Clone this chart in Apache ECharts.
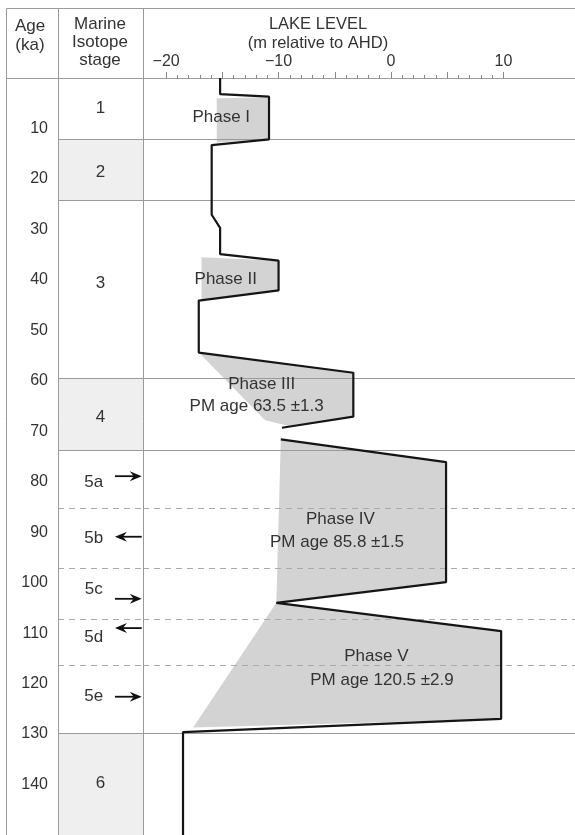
<!DOCTYPE html>
<html><head><meta charset="utf-8">
<script src="https://cdn.jsdelivr.net/npm/echarts@6/dist/echarts.min.js"></script>
<style>html,body{margin:0;padding:0;background:#fff}#c{width:575px;height:835px}</style>
</head><body><div id="c"></div>
<script>
// ---- data (lake level in m relative to AHD, age in ka) ----
const level1 = [-15.2, -15.2, -10.85, -10.85, -15.95, -15.95, -15.2, -15.2, -10.0, -10.0, -17.1, -17.1, -3.35, -3.35, -9.7];
const age1   = [0, 3.2, 3.7, 12.15, 13.3, 27.1, 29.7, 34.9, 36.2, 42.1, 44.1, 54.4, 58.4, 67.1, 69.3];
const level2 = [-9.8, 4.9, 4.9, -10.2, 9.8, 9.8, -18.5, -18.5];
const age2   = [71.6, 76.1, 99.9, 104.0, 109.6, 127.0, 129.6, 150];

const phaseLevels = [
  [-15.5, -10.85, -10.85, -15.5],
  [-16.85, -10.0, -10.0, -16.85],
  [-17.1, -3.35, -3.35, -9.0, -11.2],
  [-9.8, 4.9, 4.9, -10.2],
  [-10.2, 9.8, 9.8, -17.6]
];
const phaseAges = [
  [4.0, 3.8, 12.15, 12.8],
  [35.5, 36.2, 42.1, 44.0],
  [54.4, 58.4, 67.1, 69.0, 67.8],
  [71.6, 76.1, 99.9, 104.0],
  [104.0, 109.6, 127.0, 128.7]
];

const labelText  = ['Phase I', 'Phase II', 'Phase III', 'PM age 63.5 \u00b11.3', 'Phase IV', 'PM age 85.8 \u00b11.5', 'Phase V', 'PM age 120.5 \u00b12.9'];
const labelLevel = [-15.1, -14.7, -11.5, -11.95, -4.5, -4.8, -1.3, -0.8];
const labelAge   = [7.8, 39.9, 60.6, 65.1, 87.4, 92.1, 114.5, 119.3];

const stageNames    = ['1', '2', '3', '4', '5a', '5b', '5c', '5d', '5e', '6'];
const stageLabelAge = [6.0, 18.6, 40.6, 67.2, 80.2, 91.3, 101.4, 110.8, 122.6, 139.7];
const stageBounds    = [12.15, 24.3, 59.4, 73.7, 129.9];
const substageBounds = [85.2, 97.2, 107.2, 116.4];
const shadedStart = [12.15, 59.4, 129.9];
const shadedEnd   = [24.3, 73.7, 150];
const arrowAge = [78.9, 90.9, 103.2, 109.0, 122.6];
const arrowDir = [1, -1, 1, -1, 1];

const levelMajorTicks = [-20, -15, -10, -5, 0, 5, 10];
const levelLabels = [-20, -10, 0, 10];
const levelMinorTicks = [];
for (let v = -20; v <= 10; v++) levelMinorTicks.push(v);

// ---- chart ----
const FONT = '"Liberation Sans", Arial, sans-serif';
const TXT = '#333';
const GRID_LINE = '#9a9a9a';
const chart = echarts.init(document.getElementById('c'), null, {renderer: 'canvas'});

const seg1 = level1.map((v, i) => [v, age1[i]]);
const seg2 = level2.map((v, i) => [v, age2[i]]);

function hLine(v, dashed) {
  return {yAxis: v, lineStyle: {color: dashed ? '#aaa' : GRID_LINE, width: 1, type: dashed ? [6, 5] : 'solid'}};
}
const allLines = stageBounds.map(v => hLine(v, false)).concat(substageBounds.map(v => hLine(v, true)));

const frame = [
  [6.5, 8.5, 6.5, 835], [6.5, 8.5, 575, 8.5], [58.5, 8.5, 58.5, 835], [143.5, 8.5, 143.5, 835], [6.5, 78.5, 143.5, 78.5]
].map(s => ({type: 'line', silent: true, z: 10, shape: {x1: s[0], y1: s[1], x2: s[2], y2: s[3]}, style: {stroke: GRID_LINE, lineWidth: 1}}));

function headerText(t, x, y, size) {
  return {type: 'text', silent: true, z: 10, x: x, y: y, style: {text: t, fill: TXT, font: (size || 16) + 'px ' + FONT, align: 'center', verticalAlign: 'middle'}};
}

const option = {
  animation: false,
  backgroundColor: '#fff',
  grid: [
    {left: 143, right: 0, top: 78, bottom: 0},
    {left: 58, width: 85, top: 78, bottom: 0}
  ],
  xAxis: [
    {gridIndex: 0, type: 'value', position: 'top', min: -22.06, max: 16.37,
     axisLine: {show: true, lineStyle: {color: GRID_LINE, width: 1}},
     axisTick: {show: true, customValues: levelMajorTicks, length: 6, lineStyle: {color: '#888'}},
     axisLabel: {show: true, customValues: levelLabels, margin: 8, fontSize: 16, fontFamily: FONT, color: TXT,
                 formatter: v => (v < 0 ? '\u2212' + Math.abs(v) : String(v))},
     splitLine: {show: false}},
    {gridIndex: 0, type: 'value', position: 'top', min: -22.06, max: 16.37,
     axisLine: {show: false},
     axisTick: {show: true, customValues: levelMinorTicks, length: 3, lineStyle: {color: '#888'}},
     axisLabel: {show: false}, splitLine: {show: false}},
    {gridIndex: 1, type: 'value', min: 0, max: 1, show: false}
  ],
  yAxis: [
    {gridIndex: 0, type: 'value', inverse: true, min: 0, max: 150, interval: 10,
     axisLine: {show: false}, axisTick: {show: false}, splitLine: {show: false},
     axisLabel: {margin: 95, fontSize: 16, fontFamily: FONT, color: TXT,
                 formatter: v => (v === 0 || v === 150 ? '' : String(v))}},
    {gridIndex: 1, type: 'value', inverse: true, min: 0, max: 150, show: false}
  ],
  graphic: frame.concat([
    headerText('Age', 30, 26, 17), headerText('(ka)', 30, 45, 17),
    headerText('Marine', 100, 24, 17), headerText('Isotope', 100, 42, 17), headerText('stage', 100, 60, 17),
    headerText('LAKE LEVEL', 318, 24, 16.5), headerText('(m relative to AHD)', 318, 43, 16.5)
  ]),
  series: [
    // stage column: shading, boundaries, labels
    {type: 'custom', xAxisIndex: 2, yAxisIndex: 1, silent: true, z: 1,
     data: stageNames.map((n, i) => [i]),
     renderItem: function (params, api) {
       const i = api.value(0);
       const x = stageNames[i].length > 1 ? 0.42 : 0.5;
       const p = api.coord([x, stageLabelAge[i]]);
       return {type: 'text', x: p[0], y: p[1], z2: 5,
               style: {text: stageNames[i], fill: TXT, font: '17px ' + FONT, align: 'center', verticalAlign: 'middle'}};
     },
     markArea: {silent: true, itemStyle: {color: '#efefef'},
                data: shadedStart.map((s, i) => [{yAxis: s}, {yAxis: shadedEnd[i]}])},
     markLine: {silent: true, symbol: 'none', label: {show: false}, data: allLines}
    },
    // arrows
    {type: 'custom', xAxisIndex: 2, yAxisIndex: 1, silent: true, z: 3,
     data: arrowAge.map((a, i) => [i]),
     renderItem: function (params, api) {
       const i = api.value(0);
       const a = api.coord([0.67, arrowAge[i]]);
       const b = api.coord([0.985, arrowAge[i]]);
       const y = a[1];
       const head = arrowDir[i] > 0 ? b[0] : a[0];
       const tail = arrowDir[i] > 0 ? a[0] : b[0];
       const d = arrowDir[i] > 0 ? -1 : 1;
       return {type: 'group', children: [
         {type: 'line', shape: {x1: tail, y1: y, x2: head + d * 6, y2: y}, style: {stroke: '#111', lineWidth: 1.8}},
         {type: 'polygon', shape: {points: [[head, y], [head + d * 12, y - 5], [head + d * 8, y], [head + d * 12, y + 5]]}, style: {fill: '#111'}}
       ]};
     }
    },
    // phase shading polygons
    {type: 'custom', xAxisIndex: 0, yAxisIndex: 0, silent: true, z: 2,
     data: phaseLevels.map((p, i) => [i]),
     renderItem: function (params, api) {
       const i = api.value(0);
       const pts = phaseLevels[i].map((v, k) => api.coord([v, phaseAges[i][k]]));
       return {type: 'polygon', shape: {points: pts}, style: {fill: '#d3d3d3'}};
     },
     markLine: {silent: true, symbol: 'none', label: {show: false}, data: allLines, z: 3}
    },
    // lake level line
    {type: 'line', xAxisIndex: 0, yAxisIndex: 0, data: seg1, showSymbol: false, silent: true, z: 5,
     lineStyle: {color: '#151515', width: 2.2}},
    {type: 'line', xAxisIndex: 0, yAxisIndex: 0, data: seg2, showSymbol: false, silent: true, z: 5,
     lineStyle: {color: '#151515', width: 2.2}},
    // phase labels
    {type: 'custom', xAxisIndex: 0, yAxisIndex: 0, silent: true, z: 6,
     data: labelText.map((t, i) => [i]),
     renderItem: function (params, api) {
       const i = api.value(0);
       const p = api.coord([labelLevel[i], labelAge[i]]);
       return {type: 'text', x: p[0], y: p[1],
               style: {text: labelText[i], fill: TXT, font: '17px ' + FONT, align: 'center', verticalAlign: 'middle'}};
     }
    }
  ]
};
chart.setOption(option);
</script>
</body></html>
